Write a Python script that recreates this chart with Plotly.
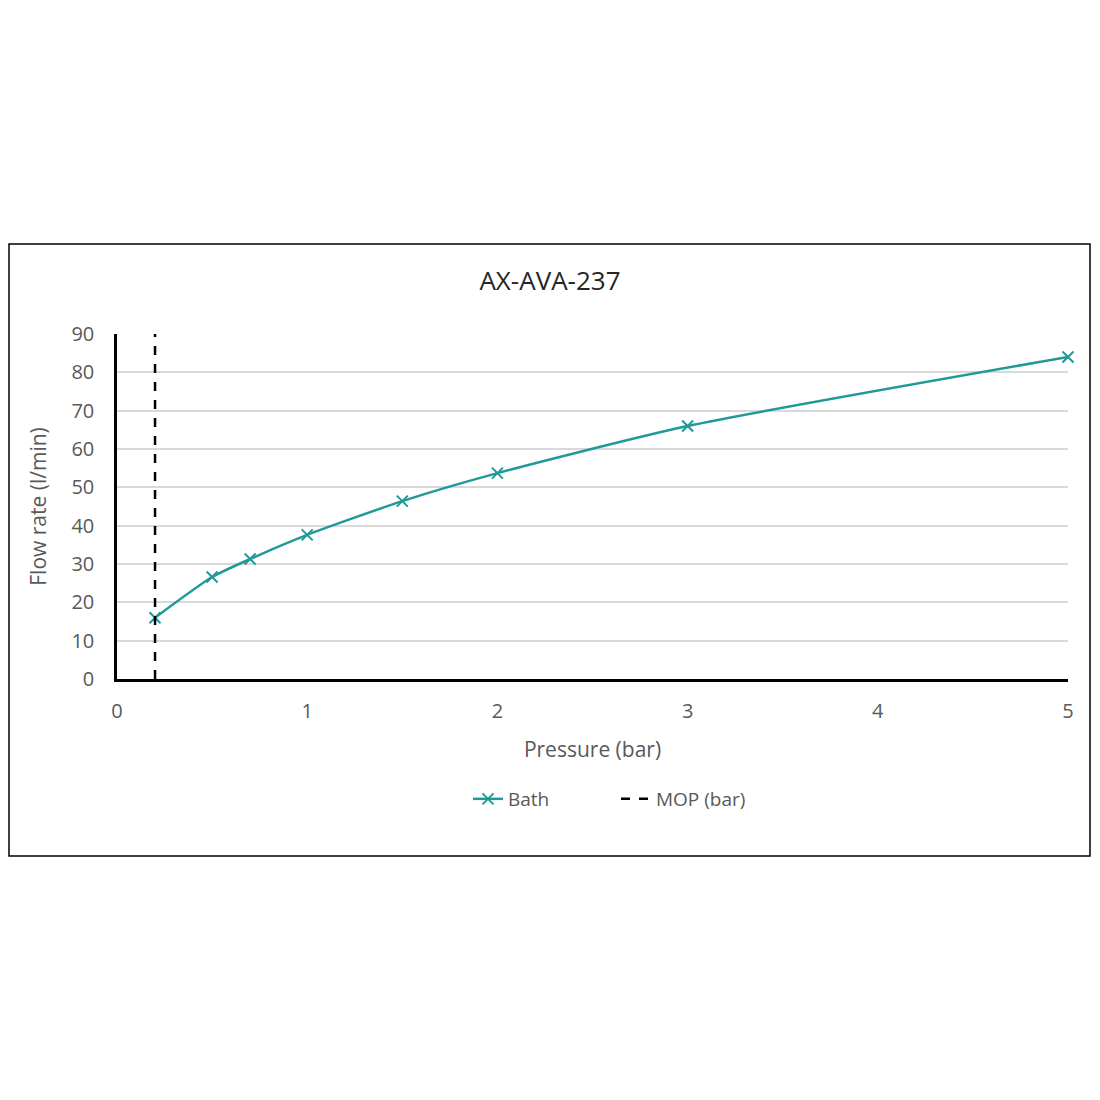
import plotly.graph_objects as go

pressure = [0.2, 0.5, 0.7, 1, 1.5, 2, 3, 5]
flow = [16, 26.6, 31.3, 37.6, 46.4, 53.7, 66, 84]
mop_x = [0.2, 0.2]
mop_y = [0, 90]

# The page body has an 8 px margin, so target page pixels are shifted by OFF.
OFF = 8
W, H = 1084, 1084
L = 117 - OFF
T = 334 - OFF
R = W - (1068 - OFF)
B = H - (679 - OFF)
pw = W - L - R
ph = H - T - B

def px2x(px):
    return (px - OFF - L) / pw

def py2y(py):
    return (H - B - (py - OFF)) / ph

font = "Open Sans, Liberation Sans, sans-serif"
gray = "#595959"
teal = "#1f9a96"

fig = go.Figure()
fig.add_trace(go.Scatter(
    x=pressure, y=flow, name="Bath", mode="lines+markers",
    line=dict(color=teal, width=2.5, shape="spline", smoothing=0.6),
    marker=dict(symbol="x-thin", size=11, line=dict(color=teal, width=2), color=teal),
    cliponaxis=False,
))
fig.add_trace(go.Scatter(
    x=mop_x, y=mop_y, name="MOP (bar)", mode="lines",
    line=dict(color="black", width=2.5, dash="dash"),
))

fig.update_layout(
    width=W, height=H,
    margin=dict(l=L, r=R, t=T, b=B),
    paper_bgcolor="white", plot_bgcolor="white",
    font=dict(family=font, color=gray, size=19),
    title=dict(text="AX-AVA-237", x=(550 - OFF) / W, xanchor="center", xref="container",
               y=1 - (281 - OFF) / H, yref="container", yanchor="middle",
               font=dict(size=26, color="#262626", family=font)),
    showlegend=True,
    legend=dict(orientation="h", x=px2x(468), xanchor="left",
                y=py2y(799), yanchor="middle", font=dict(size=19, color=gray),
                entrywidth=103, entrywidthmode="pixels", tracegroupgap=0),
    xaxis=dict(range=[0, 5], tickvals=[0, 1, 2, 3, 4, 5], showgrid=False,
               showline=True, linecolor="black", linewidth=2.5, zeroline=False,
               ticks="", ticklabelstandoff=12,
               title=dict(text="Pressure (bar)", font=dict(size=21, color=gray), standoff=20),
               tickfont=dict(size=20, color=gray)),
    yaxis=dict(range=[0, 90], tickvals=list(range(0, 91, 10)), showgrid=True,
               gridcolor="#d9d9d9", gridwidth=1.5,
               showline=True, linecolor="black", linewidth=2.5, zeroline=False,
               ticks="", ticklabelstandoff=16,
               title=dict(text="Flow rate (l/min)", font=dict(size=21, color=gray), standoff=20),
               tickfont=dict(size=20, color=gray)),
)

fig.add_shape(type="rect", xref="paper", yref="paper",
              x0=px2x(OFF + 1), x1=px2x(OFF + W - 2), y0=py2y(856), y1=py2y(244),
              line=dict(color="black", width=1.5), fillcolor="rgba(0,0,0,0)", layer="below")

fig.write_html("out.html")
